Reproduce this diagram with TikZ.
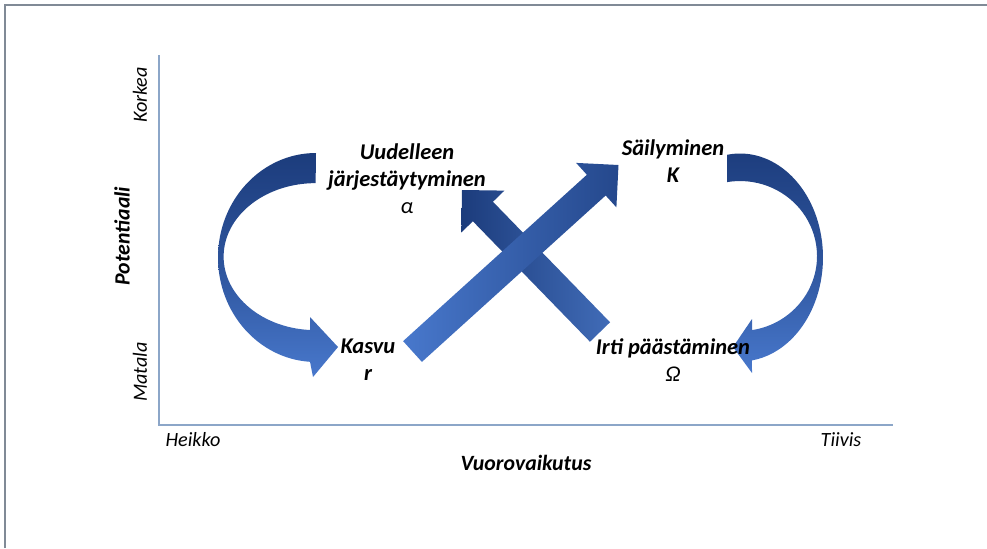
\documentclass[tikz,border=0pt]{standalone}
\usepackage{fontspec}
\setmainfont{Carlito}
\usetikzlibrary{calc}
\definecolor{arrowlight}{RGB}{72,120,204}
\definecolor{arrowdark}{RGB}{28,60,124}
\definecolor{axisblue}{RGB}{140,166,200}
\definecolor{framegray}{RGB}{128,138,150}
\tikzset{
  phase/.style={font=\fontsize{12.8}{15.3}\selectfont\bfseries\itshape, align=center, anchor=base, inner sep=0pt},
  axislabel/.style={font=\fontsize{11.5}{14}\selectfont\itshape},
  axistitle/.style={font=\fontsize{12.4}{14}\selectfont\bfseries\itshape},
  ribbon/.style={top color=arrowdark, bottom color=arrowlight, middle color=arrowdark!60!arrowlight},
}
\newcommand{\blockarrow}[3]{%
  \coordinate (m) at ($(#3)!0.6cm!(#2)$);
  \path[#1] ($(#2)!0.28cm!90:(#3)$) -- ($(m)!0.28cm!90:(#3)$) -- ($(m)!0.6cm!90:(#3)$) -- (#3)
    -- ($(m)!0.6cm!-90:(#3)$) -- ($(m)!0.28cm!-90:(#3)$) -- ($(#2)!0.28cm!-90:(#3)$) -- cycle;}
\begin{document}
\begin{tikzpicture}[x=0.02cm, y=-0.02cm]
  \useasboundingbox (0,0) rectangle (987,548);
  \draw[framegray, line width=1pt] (5,548) -- (5,5) -- (987,5);
  \coordinate (O) at (159,425);
  \draw[axisblue, line width=1pt] (159,55) -- (O) -- (893,425);

  \path[ribbon] (316,153) arc[start angle=270, end angle=93.5, x radius=98, y radius=104.5]
    -- (313,377) -- (338,347) -- (310,317) -- (310,330)
    arc[start angle=93.5, end angle=270, x radius=92, y radius=73.5] -- cycle;
  \path[ribbon] (727,154.8) arc[start angle=261, end angle=441.7, x radius=83, y radius=104]
    -- (752,373) -- (733,347) -- (752,319) -- (752,330.1)
    arc[start angle=81.03, end angle=-99.7, x radius=77, y radius=75] -- cycle;

  \coordinate (irtiT) at (600,332);
  \coordinate (uudT) at (462,190);
  \coordinate (kasT) at (412.5,351.5);
  \coordinate (saiT) at (618.5,165);
  \blockarrow{left color=arrowdark, right color=arrowlight!90!black}{irtiT}{uudT}
  \blockarrow{left color=arrowlight, right color=arrowdark!80!arrowlight}{kasT}{saiT}

  \node (uud) [phase] at (407,213) {Uudelleen\\järjestäytyminen\\{\mdseries α}};
  \node (sai) [phase] at (673,182) {Säilyminen\\K};
  \node (kas) [phase] at (368,380) {Kasvu\\r};
  \node (irti) [phase] at (673,381) {Irti päästäminen\\{\mdseries Ω}};

  \node (korkea) [axislabel, rotate=90] at (140,95) {Korkea};
  \node (matala) [axislabel, rotate=90] at (140,372) {Matala};
  \node (pot) [axistitle, rotate=90] at (122,236) {Potentiaali};
  \node (heikko) [axislabel] at (193,440) {Heikko};
  \node (tiivis) [axislabel] at (841,440) {Tiivis};
  \node (vuoro) [axistitle] at (526,463) {Vuorovaikutus};
\end{tikzpicture}
\end{document}
